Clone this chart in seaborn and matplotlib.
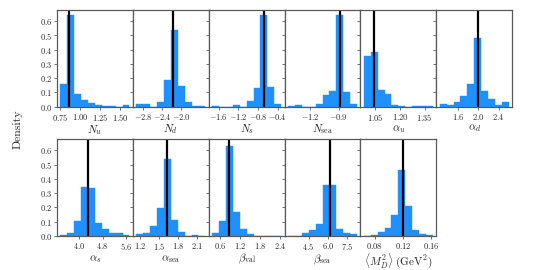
import matplotlib.pyplot as plt
import numpy as np
import seaborn as sns

# x-axis labels of the parameters
labels = [r"$N_u$", r"$N_d$", r"$N_s$", r"$N_{\rm sea}$", r"$\alpha_u$", r"$\alpha_d$",
          r"$\alpha_s$", r"$\alpha_{\rm sea}$", r"$\beta_{\rm val}$", r"$\beta_{\rm sea}$",
          r"$\langle M_D^2 \rangle\ ({\rm GeV}^2)$"]

# histogram range (min, max of replicas) of each parameter
ranges = [(0.75, 1.616), (-2.943, -1.487), (-1.73, -0.333), (-1.4275, -0.71), (0.98, 1.40),
          (1.234, 2.60), (3.35, 5.72), (1.148, 2.227), (0.35, 2.43), (2.9, 8.29), (0.065, 0.162)]

# fraction of replicas in each of the 10 bins
h_nu = [0.16, 0.64, 0.09, 0.05, 0.025, 0.01, 0.005, 0.005, 0.0, 0.01]
h_nd = [0.02, 0.017, 0.0, 0.033, 0.185, 0.54, 0.143, 0.033, 0.007, 0.005]
h_ns = [0.005, 0.0, 0.0, 0.01, 0.0, 0.04, 0.13, 0.64, 0.14, 0.02]
h_nsea = [0.005, 0.01, 0.0, 0.0, 0.02, 0.083, 0.113, 0.645, 0.1, 0.02]
h_au = [0.356, 0.386, 0.117, 0.089, 0.012, 0.007, 0.0, 0.004, 0.003, 0.003]
h_ad = [0.016, 0.012, 0.03, 0.073, 0.157, 0.478, 0.108, 0.054, 0.012, 0.033]
h_as = [0.007, 0.019, 0.108, 0.34, 0.333, 0.089, 0.052, 0.019, 0.019, 0.005]
h_asea = [0.014, 0.021, 0.068, 0.197, 0.539, 0.11, 0.03, 0.0, 0.007, 0.003]
h_bval = [0.021, 0.103, 0.63, 0.169, 0.047, 0.014, 0.0, 0.003, 0.003, 0.002]
h_bsea = [0.003, 0.003, 0.024, 0.042, 0.082, 0.36, 0.36, 0.052, 0.021, 0.014]
h_md2 = [0.003, 0.009, 0.03, 0.058, 0.15, 0.46, 0.21, 0.044, 0.014, 0.009]
heights = [h_nu, h_nd, h_ns, h_nsea, h_au, h_ad, h_as, h_asea, h_bval, h_bsea, h_md2]

# best fit values (black lines)
best = [0.855, -2.177, -0.69, -0.89, 1.044, 1.99, 4.285, 1.628, 0.85, 6.15, 0.1195]

# x ticks of each panel
xticks = [[0.75, 1.0, 1.25, 1.5], [-2.8, -2.4, -2.0], [-1.6, -1.2, -0.8, -0.4], [-1.2, -0.9],
          [1.05, 1.2, 1.35], [1.6, 2.0, 2.4], [4.0, 4.8, 5.6], [1.2, 1.5, 1.8, 2.1],
          [0.6, 1.2, 1.8, 2.4], [4.5, 6.0, 7.5], [0.08, 0.12, 0.16]]
yticks = [0.0, 0.1, 0.2, 0.3, 0.4, 0.5, 0.6]

sns.set_theme(style="ticks")
plt.rcParams["font.family"] = "serif"
plt.rcParams["font.serif"] = ["cmr10"]
plt.rcParams["mathtext.fontset"] = "cm"
plt.rcParams["axes.formatter.use_mathtext"] = True
plt.rcParams["axes.edgecolor"] = "0.35"
plt.rcParams["axes.linewidth"] = 0.9
plt.rcParams["xtick.color"] = "0.35"
plt.rcParams["ytick.color"] = "0.35"
plt.rcParams["xtick.labelcolor"] = "0.15"
plt.rcParams["ytick.labelcolor"] = "0.15"
plt.rcParams["xtick.major.size"] = 2.2
plt.rcParams["ytick.major.size"] = 2.2
plt.rcParams["xtick.major.width"] = 0.6
plt.rcParams["ytick.major.width"] = 0.6

fig, axes = plt.subplots(2, 6, figsize=(5.38, 2.70), dpi=100, sharey=True)
fig.subplots_adjust(left=0.106, right=0.952, top=0.963, bottom=0.126, wspace=0, hspace=0.337)

for i, ax in enumerate(axes.flat[:11]):
    lo, hi = ranges[i]
    centers = lo + (np.arange(10) + 0.5) * (hi - lo) / 10
    sns.histplot(x=centers, weights=heights[i], bins=10, binrange=(lo, hi), ax=ax,
                 color="#1E90FF", alpha=1, edgecolor="#1E90FF", linewidth=0.3)
    ax.axvline(best[i], color="black", lw=1.6)
    ax.set_xticks(xticks[i])
    ax.set_xlabel(labels[i], fontsize=8, labelpad=0.5)
    ax.set_ylabel("")
    ax.tick_params(labelsize=6, pad=1.5)

axes[0, 0].set_yticks(yticks)
axes.flat[11].axis("off")

fig.text(0.033, 0.52, "Density", rotation=90, va="center", ha="center", fontsize=8.5)

fig.savefig("out.png", dpi=100)
